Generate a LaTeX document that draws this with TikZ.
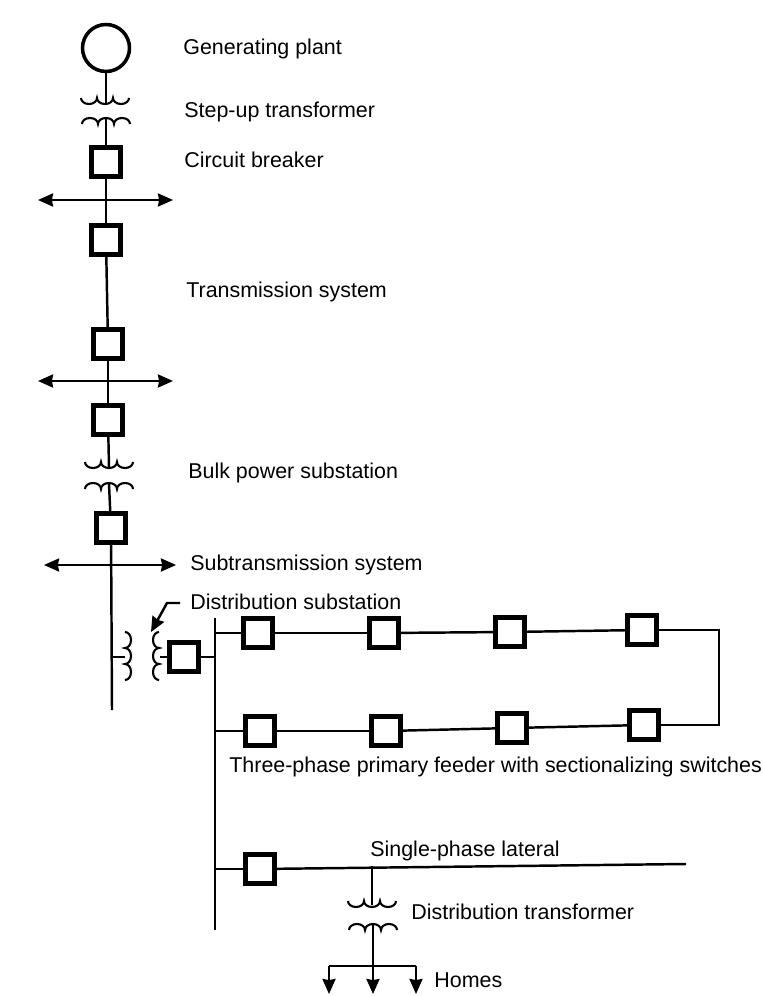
\documentclass[tikz,border=0pt]{standalone}
\usepackage{fontspec}
\setmainfont{Liberation Sans}
\usetikzlibrary{
	arrows.meta,
	positioning
}

\begin{document}
\begin{tikzpicture}[
			x=0.02cm, y=0.02cm,
			line/.style={line width=1.4pt},
			plant/.style={
				circle, draw, line width=2pt,
				minimum size=0.94cm, inner sep=0pt
			},
			breaker/.style={
				rectangle, draw, line width=2.5pt,
				minimum size=0.58cm, inner sep=0pt
			},
			label/.style={
				anchor=base west, inner sep=0pt, font=\fontsize{12.2}{14}\selectfont
			},
			arrow/.style={-{Stealth[length=3mm,width=2.6mm,inset=0.6pt]}, line width=1.4pt},
			arrowboth/.style={{Stealth[length=3mm,width=2.6mm,inset=0.6pt]}-{Stealth[length=3mm,width=2.6mm,inset=0.6pt]}, line width=1.4pt},
			winding/.pic={
				\draw[line width=1.2pt] (-24,0) arc[start angle=180, end angle=360, x radius=8, y radius=6]
					arc[start angle=180, end angle=360, x radius=8, y radius=6]
					arc[start angle=180, end angle=360, x radius=8, y radius=6];
			}
			]
			\useasboundingbox (0,0) rectangle (763,-996);
			
			% ---------------- plant ----------------
			\node[plant] (plant) at (106,-48) {};
			\coordinate (stepHi) at (106,-103);
			\coordinate (stepLo) at (106,-119);
			\pic at (105,-98) {winding};
			\pic[rotate=180] at (106,-124) {winding};
			\draw[line] (plant) -- (stepHi);
			\node[label] (plantText) at (183,-55) {Generating plant};
			\node[label] (stepText) at (184,-118) {Step-up transformer};
			
			% ---------------- transmission ----------------
			\node[breaker] (cbA) at (106,-162) {};
			\node[breaker] (cbB) at (106,-240) {};
			\node[breaker] (cbC) at (108,-344) {};
			\node[breaker] (cbD) at (108,-420) {};
			\coordinate (busAl) at (38,-200);
			\coordinate (busAr) at (173,-200);
			\coordinate (busBl) at (38,-381);
			\coordinate (busBr) at (173,-381);
			\draw[line] (stepLo) -- (cbA);
			\draw[line] (cbA) -- (cbB);
			\draw[line] (cbB) -- (cbC);
			\draw[line] (cbC) -- (cbD);
			\draw[arrowboth] (busAl) -- (busAr);
			\draw[arrowboth] (busBl) -- (busBr);
			\node[label] (cbText) at (184,-168) {Circuit breaker};
			\node[label] (transText) at (186,-298) {Transmission system};
			
			% ---------------- bulk power ----------------
			\coordinate (bulkHi) at (109,-467);
			\coordinate (bulkLo) at (109,-484);
			\pic at (109,-462) {winding};
			\pic[rotate=180] at (109,-489) {winding};
			\node[breaker] (cbE) at (111,-528) {};
			\draw[line] (cbD) -- (bulkHi);
			\draw[line] (bulkLo) -- (cbE);
			\node[label] (bulkText) at (188,-478) {Bulk power substation};
			
			% ---------------- subtransmission ----------------
			\node[label] (subText) at (190,-570) {Subtransmission system};
			\coordinate (busCl) at (44,-565);
			\coordinate (busCr) at (176,-565);
			\coordinate (subEnd) at (112,-710);
			\coordinate (subTap) at (112,-657);
			\coordinate (distHi) at (125,-657);
			\coordinate (distLo) at (160,-657);
			\draw[arrowboth] (busCl) -- (busCr);
			\draw[line] (cbE) -- (subEnd);
			\draw[line] (subTap) -- (distHi);
			\pic[rotate=90] at (125,-656) {winding};
			\pic[rotate=-90] at (159,-656) {winding};
			
			% ---------------- distribution ----------------
			\node[breaker] (cbF) at (184,-657) {};
			\node[label] (distText) at (190,-609) {Distribution substation};
			\coordinate (distStart) at (180,-603);
			\coordinate (distBend) at (167,-603);
			\coordinate (distTip) at (151,-632);
			\coordinate (feedTop) at (215,-618);
			\coordinate (feedEnd) at (215,-930);
			\draw[line] (distLo) -- (cbF);
			\draw[line] (cbF) -- (cbF -| feedTop);
			\draw[line] (feedTop) -- (feedEnd);
			\draw[arrow] (distStart) -- (distBend) -- (distTip);
			
			% ---------------- feeder ----------------
			\node[breaker] (swA) at (258,-633) {};
			\node[breaker] (swB) at (384,-633) {};
			\node[breaker] (swC) at (510,-632) {};
			\node[breaker] (swD) at (642,-630) {};
			\node[breaker] (swE) at (260,-731) {};
			\node[breaker] (swF) at (386,-731) {};
			\node[breaker] (swG) at (512,-728) {};
			\node[breaker] (swH) at (644,-725) {};
			\coordinate (loopA) at (719,-630);
			\coordinate (loopB) at (719,-725);
			\draw[line] (swA -| feedTop) -- (swA);
			\draw[line] (swA) -- (swB);
			\draw[line] (swB) -- (swC);
			\draw[line] (swC) -- (swD);
			\draw[line] (swD) -- (loopA) -- (loopB) -- (swH);
			\draw[line] (swE -| feedTop) -- (swE);
			\draw[line] (swE) -- (swF);
			\draw[line] (swF) -- (swG);
			\draw[line] (swG) -- (swH);
			\node[label] (feedText) at (229,-772) {Three-phase primary feeder with sectionalizing switches};
			
			% ---------------- lateral ----------------
			\node[breaker] (swI) at (260,-869) {};
			\coordinate (latEnd) at (686,-864);
			\coordinate (latTap) at (372,-866);
			\coordinate (latHi) at (372,-905);
			\coordinate (latLo) at (373,-925);
			\coordinate (homeTop) at (373,-966);
			\coordinate (homeL) at (329,-966);
			\coordinate (homeR) at (416,-966);
			\coordinate (homeA) at (329,-994);
			\coordinate (homeB) at (373,-994);
			\coordinate (homeC) at (416,-994);
			\draw[line] (swI -| feedTop) -- (swI);
			\draw[line] (swI) -- (latEnd);
			\draw[line] (latTap) -- (latHi);
			\pic at (372,-901) {winding};
			\pic[rotate=180] at (373,-930) {winding};
			\draw[line] (latLo) -- (homeTop);
			\draw[arrow] (homeL) -- (homeA);
			\draw[arrow] (homeTop) -- (homeB);
			\draw[arrow] (homeR) -- (homeC);
			\draw[line] (homeL) -- (homeR);
			\node[label] (latText) at (370,-856) {Single-phase lateral};
			\node[label] (trafoText) at (411,-919) {Distribution transformer};
			\node[label] (homeText) at (434,-987) {Homes};
		\end{tikzpicture}
\end{document}
